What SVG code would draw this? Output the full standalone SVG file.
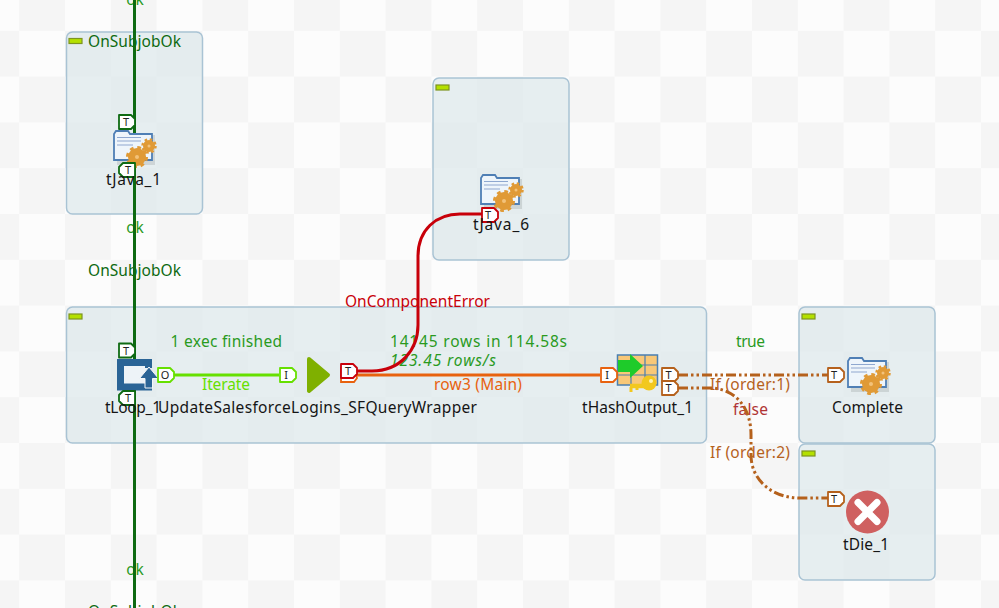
<svg xmlns="http://www.w3.org/2000/svg" width="999" height="608" viewBox="0 0 999 608">
<style>
text{font-family:"Noto Sans","DejaVu Sans",sans-serif;font-size:15.5px}
.box{fill:#dae6ea;fill-opacity:.65;stroke:#a9c3d4;stroke-width:1.5}
.badge{fill:#b4e000;stroke:#7d9420;stroke-width:1.200}
.name{fill:#151515;text-anchor:middle}
.port{fill:#fff;stroke-width:1.800;stroke-linejoin:round}
.pt{font-size:11px;fill:#222;text-anchor:middle}
.dk{fill:#0e6a12}.gr{fill:#2a9a1e}.lm{fill:#66e000}.or{fill:#e8620f}.rd{fill:#c8000a}.br{fill:#b5611c}.fl{fill:#b03434}
.cn{fill:none}
.ifl{stroke:#b5611c;stroke-width:3;stroke-dasharray:10 3 2.500 3 2.500 3}
</style>
<defs>
<pattern id="chk" x="65" y="-15" width="91.600" height="91.600" patternUnits="userSpaceOnUse">
<rect width="91.600" height="91.600" fill="#fcfcfc"/>
<rect x="45.800" width="45.800" height="45.800" fill="#f5f5f5"/>
<rect y="45.800" width="45.800" height="45.800" fill="#f5f5f5"/>
</pattern>
<path id="pr" d="M0 0H12L16 4V10L12 14H0Z"/>
<path id="pl" d="M16 0H4L0 4V10L4 14H16Z"/>
<g id="java">
<rect x="3" y="4" width="38" height="30" fill="#000" opacity=".1"/>
<path d="M0 3V29H38V3H16L14 0H2Z" fill="#eef5fb" stroke="#4f7fb5" stroke-width="1.800"/>
<path d="M3 6.500H27M3 10H27M3 14H19" stroke="#8fa8d0" stroke-width="1.200" fill="none"/>
<g fill="#e09a36">
<circle cx="35" cy="15" r="6"/>
<circle cx="35" cy="15" r="6.500" fill="none" stroke="#e09a36" stroke-width="2.500" stroke-dasharray="2.500 2.600"/>
<circle cx="35" cy="15" r="1.500" fill="#f3c27a"/>
<circle cx="23" cy="26" r="9"/>
<circle cx="23" cy="26" r="9.500" fill="none" stroke="#e09a36" stroke-width="3" stroke-dasharray="3.700 3.760"/>
<circle cx="23" cy="26" r="2" fill="#f3c27a"/>
</g>
</g>
</defs>
<rect id="background" width="999" height="608" fill="url(#chk)"/>
<g id="subjobs">
<g id="subjob-tJava_1"><rect class="box" x="66.500" y="32" width="136" height="182" rx="6"/><rect class="badge" x="69" y="38.500" width="13" height="5"/></g>
<g id="subjob-tJava_6"><rect class="box" x="433" y="78" width="136" height="182" rx="6"/><rect class="badge" x="436" y="85" width="13" height="5"/></g>
<g id="subjob-main"><rect class="box" x="66.500" y="307" width="640" height="136" rx="6"/><rect class="badge" x="69" y="314" width="13" height="5"/></g>
<g id="subjob-Complete"><rect class="box" x="799" y="307" width="136" height="136" rx="6"/><rect class="badge" x="802" y="314" width="13" height="5"/></g>
<g id="subjob-tDie_1"><rect class="box" x="799" y="444" width="136" height="136" rx="6"/><rect class="badge" x="802" y="451" width="13" height="5"/></g>
</g>
<g id="labels">
<text x="135" y="5" text-anchor="middle" class="gr">ok</text>
<text x="88" y="47" class="dk" textLength="93">OnSubjobOk</text>
<text x="135" y="233" text-anchor="middle" class="gr">ok</text>
<text x="88" y="276" class="dk" textLength="93">OnSubjobOk</text>
<text x="135" y="575" text-anchor="middle" class="gr">ok</text>
<text x="88" y="617" class="dk" textLength="93">OnSubjobOk</text>
<text x="345" y="307" class="rd" textLength="145">OnComponentError</text>
<text x="170.500" y="347" class="gr" textLength="111.500">1 exec finished</text>
<text x="202" y="390" class="lm" textLength="48">Iterate</text>
<text x="390" y="347" class="gr" textLength="177">14145 rows in 114.58s</text>
<text x="390" y="366" class="gr" font-style="italic" textLength="106">123.45 rows/s</text>
<text x="434" y="390" class="or" textLength="88">row3 (Main)</text>
<text x="736" y="347" class="gr" textLength="29">true</text>
<text x="710" y="390" class="br" textLength="80">If (order:1)</text>
<text x="733" y="415" class="fl" textLength="35">false</text>
<text x="710" y="458" class="br" textLength="80">If (order:2)</text>
</g>
<g id="connectors" class="cn">
<path d="M134.500 -2V610" stroke="#0e6a12" stroke-width="3"/>
<path d="M174 375H279" stroke="#66e000" stroke-width="3"/>
<path d="M357 375H600" stroke="#e8620f" stroke-width="3"/>
<path d="M357 371H372C400 371 418 350 418 325V256C418 230 436 214 460 214H482" stroke="#c8000a" stroke-width="3"/>
<path class="ifl" d="M678 375H828"/>
<path class="ifl" d="M678 388H712C738 390 751 410 751 435V455C751 480 772 498 800 498H828"/>
</g>
<g id="tJava_1">
<use href="#java" x="114" y="131"/>
<use href="#pr" x="119" y="115" class="port" stroke="#0e6a12"/><text class="pt" x="126" y="126">T</text>
<use href="#pl" x="119" y="163" class="port" stroke="#0e6a12"/><text class="pt" x="128" y="174">T</text>
<text class="name" x="133.500" y="185" textLength="55">tJava_1</text>
</g>
<g id="tJava_6">
<use href="#java" x="481" y="175"/>
<use href="#pr" x="482" y="208" class="port" stroke="#c8000a"/><text class="pt" x="488" y="219">T</text>
<text class="name" x="501" y="230" textLength="56">tJava_6</text>
</g>
<g id="tLoop_1">
<path d="M146 362.500H120.500V387H148.500V379" fill="#edf3f7" stroke="#2a6496" stroke-width="7"/>
<path d="M145 359H152V368H145Z" fill="#2a6496"/>
<path d="M139.500 378.500L149 367L158.500 378.500H152.500V388H145V378.500Z" fill="#2a6496" stroke="#f4f7f9" stroke-width="1"/>
<use href="#pr" x="119" y="343.500" class="port" stroke="#0e6a12"/><text class="pt" x="126" y="355">T</text>
<use href="#pl" x="119" y="391" class="port" stroke="#0e6a12"/><text class="pt" x="128" y="402">T</text>
<use href="#pr" x="158" y="368" class="port" stroke="#66e000"/><text class="pt" x="165" y="379">O</text>
<text class="name" x="133" y="413" textLength="56">tLoop_1</text>
</g>
<g id="UpdateSalesforceLogins_SFQueryWrapper">
<path d="M309 359L328 375L309 391Z" fill="#7fb000" stroke="#7fb000" stroke-width="4" stroke-linejoin="round"/>
<use href="#pr" x="280" y="368" class="port" stroke="#66e000"/><text class="pt" x="286" y="379">I</text>
<path d="M341 368H354L357 378L354 382H341Z" fill="#fff" stroke="#e8620f" stroke-width="1.800"/>
<use href="#pr" x="341" y="364" class="port" stroke="#c8000a"/><text class="pt" x="348" y="375">T</text>
<text class="name" x="317.500" y="413" textLength="319">UpdateSalesforceLogins_SFQueryWrapper</text>
</g>
<g id="tHashOutput_1">
<rect x="617.500" y="355" width="40" height="30" fill="#f8c878" stroke="#4a7fb0" stroke-width="1.500"/>
<path d="M631 355V385M645 355V385M617.500 365H657.500M617.500 375H657.500" stroke="#4a7fb0" stroke-width="1.200" fill="none"/>
<path d="M618 360H630V354L643 366L630 378V372H618Z" fill="#1ecb2a"/>
<path d="M630 386H644" fill="none" stroke="#f2c81e" stroke-width="4.500"/>
<path d="M631 387V392M637 387V390" stroke="#f2c81e" stroke-width="3"/>
<circle cx="649" cy="383" r="7.500" fill="#f2c81e"/>
<circle cx="651" cy="381" r="2" fill="#fff4b0"/>
<use href="#pr" x="601" y="368" class="port" stroke="#e8620f"/><text class="pt" x="607" y="379">I</text>
<use href="#pr" x="662" y="368" class="port" stroke="#b5611c"/><text class="pt" x="668.500" y="379">T</text>
<use href="#pr" x="662" y="381" class="port" stroke="#b5611c"/><text class="pt" x="668.500" y="392">T</text>
<text class="name" x="637.500" y="413" textLength="111">tHashOutput_1</text>
</g>
<g id="Complete">
<use href="#java" x="848" y="358"/>
<use href="#pr" x="828" y="368" class="port" stroke="#b5611c"/><text class="pt" x="834" y="379">T</text>
<text class="name" x="867.500" y="413" textLength="71">Complete</text>
</g>
<g id="tDie_1">
<circle cx="867.500" cy="512" r="21.500" fill="#cf6060"/>
<path d="M858 502.500L877 521.500M877 502.500L858 521.500" stroke="#fff" stroke-width="7" stroke-linecap="round"/>
<use href="#pr" x="828" y="492" class="port" stroke="#b5611c"/><text class="pt" x="834" y="503">T</text>
<text class="name" x="866" y="550" textLength="46">tDie_1</text>
</g>
</svg>
